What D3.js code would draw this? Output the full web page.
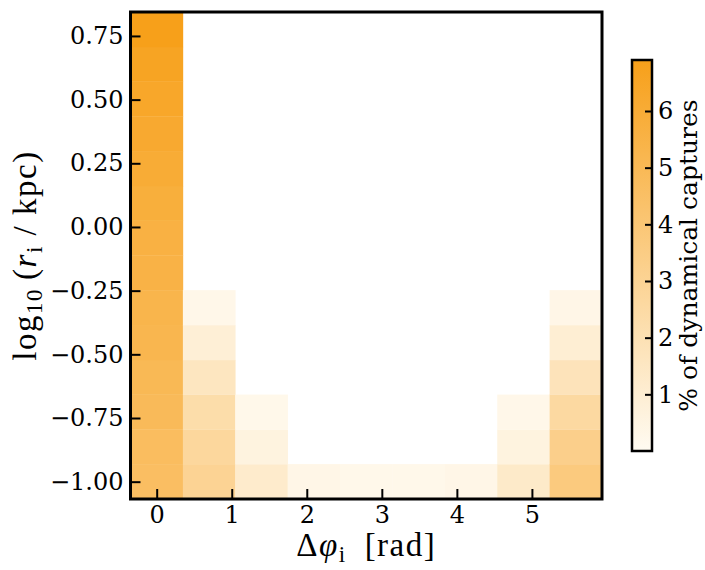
<!DOCTYPE html>
<html>
<head>
<meta charset="utf-8">
<script src="https://cdn.jsdelivr.net/npm/d3@7"></script>
<style>
    body { margin: 0; background: #fff; }
    .axis text { font-family: "DejaVu Serif", serif; font-size: 24px; fill: #000; }
    .axis path { display: none; }
    .axis line { stroke: #000; stroke-width: 2; }
    .axis-label { font-family: "Liberation Serif", "DejaVu Serif", serif; font-size: 33px; fill: #000; letter-spacing: 1.5px; }
    .cbar-label { font-family: "DejaVu Serif", serif; font-size: 25px; fill: #000; }
</style>
</head>
<body>
<div id="heatmap"></div>
<script>

// Bin edges: phase offset (rad) and log10 radius (kpc)
var phiEdges = [-0.349, 0.349, 1.047, 1.745, 2.443, 3.142, 3.840, 4.538, 5.236, 5.934];
var logrEdges = [-1.068, -0.931, -0.795, -0.658, -0.522, -0.385, -0.248, -0.112,
                 0.025, 0.161, 0.298, 0.434, 0.571, 0.707, 0.844];

// % of dynamical captures in each phase bin, innermost radius first (null = empty)
var capPhi0 = [4.6, 4.7, 4.9, 5.0, 5.2, 5.3, 5.5, 5.6, 5.8, 6.0, 6.2, 6.4, 6.6, 6.9];
var capPhi1 = [3.0, 2.7, 2.3, 1.6, 0.9, 0.3];
var capPhi2 = [1.2, 0.6, 0.25];
var capPhi3 = [0.35];
var capPhi4 = [0.25];
var capPhi5 = [0.25];
var capPhi6 = [0.35];
var capPhi7 = [1.3, 0.6, 0.3];
var capPhi8 = [3.7, 3.3, 2.6, 1.8, 1.0, 0.35];

var phiTicks = [0, 1, 2, 3, 4, 5];
var logrTicks = [-1.00, -0.75, -0.50, -0.25, 0.00, 0.25, 0.50, 0.75];
var cbarTicks = [1, 2, 3, 4, 5, 6];
var cbarRange = [0, 6.9];


HeatVis = function(_parentElement){
    this.parentElement = _parentElement;
    this.displayData = [];
    this.initVis();
};

HeatVis.prototype.initVis = function(){
    var vis = this;

    vis.margin = { top: 12, right: 103, bottom: 71, left: 130.5 };
    vis.width = 705 - vis.margin.left - vis.margin.right;
    vis.height = 570 - vis.margin.top - vis.margin.bottom;

    vis.root = d3.select("#" + vis.parentElement).append("svg")
        .attr("width", 705)
        .attr("height", 570);

    vis.svg = vis.root.append("g")
        .attr("transform", "translate(" + vis.margin.left + "," + vis.margin.top + ")");

    vis.x = d3.scaleLinear()
        .domain([phiEdges[0], phiEdges[phiEdges.length - 1]])
        .range([0, vis.width]);

    vis.y = d3.scaleLinear()
        .domain([logrEdges[0], logrEdges[logrEdges.length - 1]])
        .range([vis.height, 0]);

    vis.color = d3.scaleLinear()
        .domain(cbarRange)
        .range(["#fffbf2", "#f7a01a"]);

    vis.wrangleData();
};

HeatVis.prototype.wrangleData = function(){
    var vis = this;

    var columns = [capPhi0, capPhi1, capPhi2, capPhi3, capPhi4, capPhi5, capPhi6, capPhi7, capPhi8];
    vis.displayData = [];
    columns.forEach(function(col, i){
        col.forEach(function(v, j){
            if (v === null) return;
            vis.displayData.push({
                x0: phiEdges[i], x1: phiEdges[i + 1],
                y0: logrEdges[j], y1: logrEdges[j + 1],
                value: v
            });
        });
    });

    vis.updateVis();
};

HeatVis.prototype.updateVis = function(){
    var vis = this;

    // cells
    vis.svg.selectAll(".cell")
        .data(vis.displayData)
        .enter().append("rect")
        .attr("class", "cell")
        .attr("x", function(d){ return vis.x(d.x0); })
        .attr("y", function(d){ return vis.y(d.y1); })
        .attr("width", function(d){ return vis.x(d.x1) - vis.x(d.x0) + 0.3; })
        .attr("height", function(d){ return vis.y(d.y0) - vis.y(d.y1) + 0.3; })
        .style("fill", function(d){ return vis.color(d.value); });

    // axes with inward ticks
    var xAxis = d3.axisBottom(vis.x)
        .tickValues(phiTicks)
        .tickFormat(d3.format("d"))
        .tickSizeInner(-10)
        .tickSizeOuter(0)
        .tickPadding(7);

    var yAxis = d3.axisLeft(vis.y)
        .tickValues(logrTicks)
        .tickFormat(d3.format(".2f"))
        .tickSizeInner(-10)
        .tickSizeOuter(0)
        .tickPadding(7);

    vis.svg.append("g")
        .attr("class", "x-axis axis")
        .attr("transform", "translate(0," + vis.height + ")")
        .call(xAxis);

    vis.svg.append("g")
        .attr("class", "y-axis axis")
        .call(yAxis);

    // frame
    vis.svg.append("rect")
        .attr("width", vis.width)
        .attr("height", vis.height)
        .style("fill", "none")
        .style("stroke", "#000")
        .style("stroke-width", 3);

    // axis titles
    var xt = vis.svg.append("text")
        .attr("class", "axis-label")
        .attr("x", vis.width / 2)
        .attr("y", vis.height + 57)
        .attr("text-anchor", "middle");
    xt.append("tspan").text("\u0394");
    xt.append("tspan").style("font-style", "italic").text("\u03c6");
    xt.append("tspan").attr("dy", 6).style("font-size", "23px").text("i");
    xt.append("tspan").attr("dy", -6).text("\u2002[rad]");

    var yt = vis.svg.append("text")
        .attr("class", "axis-label")
        .attr("transform", "translate(" + (-95) + "," + (vis.height / 2) + ") rotate(-90)")
        .attr("text-anchor", "middle");
    yt.append("tspan").text("log");
    yt.append("tspan").attr("dy", 6).style("font-size", "23px").text("10");
    yt.append("tspan").attr("dy", -6).text("\u2009(");
    yt.append("tspan").style("font-style", "italic").text("r");
    yt.append("tspan").attr("dy", 6).style("font-size", "23px").text("i");
    yt.append("tspan").attr("dy", -6).text(" / kpc)");

    // colorbar
    var cb = { x: 632, y: 60, w: 20, h: 391 };

    var grad = vis.root.append("defs").append("linearGradient")
        .attr("id", "cbar-grad")
        .attr("x1", 0).attr("y1", 1).attr("x2", 0).attr("y2", 0);
    grad.selectAll("stop")
        .data(cbarRange)
        .enter().append("stop")
        .attr("offset", function(d, i){ return i; })
        .attr("stop-color", function(d){ return vis.color(d); });

    vis.cbarY = d3.scaleLinear()
        .domain(cbarRange)
        .range([cb.y + cb.h, cb.y]);

    vis.root.append("rect")
        .attr("x", cb.x).attr("y", cb.y)
        .attr("width", cb.w).attr("height", cb.h)
        .style("fill", "url(#cbar-grad)");

    var cAxis = d3.axisRight(vis.cbarY)
        .tickValues(cbarTicks)
        .tickFormat(d3.format("d"))
        .tickSizeInner(-7)
        .tickSizeOuter(0)
        .tickPadding(6);

    vis.root.append("g")
        .attr("class", "c-axis axis")
        .attr("transform", "translate(" + (cb.x + cb.w) + ",0)")
        .call(cAxis);

    vis.root.append("rect")
        .attr("x", cb.x).attr("y", cb.y)
        .attr("width", cb.w).attr("height", cb.h)
        .style("fill", "none")
        .style("stroke", "#000")
        .style("stroke-width", 2.5);

    vis.root.append("text")
        .attr("class", "cbar-label")
        .attr("transform", "translate(" + 697 + "," + (cb.y + cb.h / 2) + ") rotate(-90)")
        .attr("text-anchor", "middle")
        .text("% of dynamical captures");
};

var heatVis = new HeatVis("heatmap");

</script>
</body>
</html>
